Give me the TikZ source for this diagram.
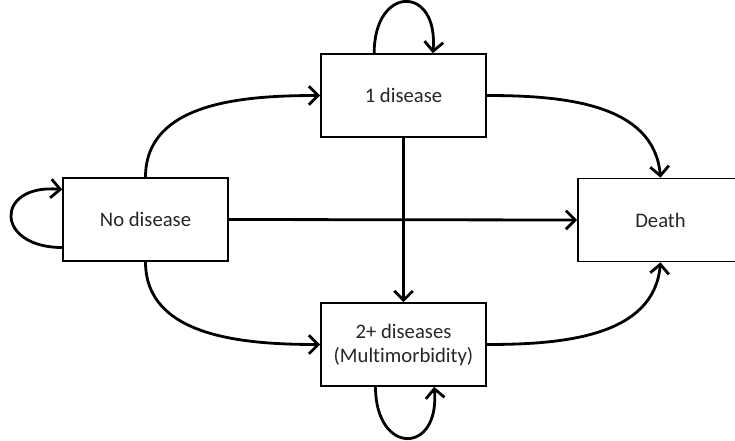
\documentclass[tikz,border=0pt]{standalone}
\usepackage{fontspec}
\setmainfont[Ligatures=NoCommon]{Carlito}
\usetikzlibrary{arrows.meta}

\tikzset{
    state/.style={draw, line width=1.2pt, minimum width=123.75pt, minimum height=62.25pt,
        align=center, font=\fontsize{15.5}{18}\selectfont, text=black!85},
    trans/.style={line width=2.1pt, -{Straight Barb[length=7pt, width=14pt]}}
}

\begin{document}
\begin{tikzpicture}[x=0.75pt, y=-0.75pt]
    \useasboundingbox (0,0) rectangle (735,440);

    \node[state] (none) at (145.5, 219.5) {No disease};
    \node[state] (one) at (403.5, 95.5) {1 disease};
    \node[state] (multi) at (403.5, 344.5) {2+ diseases\\(Multimorbidity)};
    \node[state] (death) at (660.5, 220) {Death};

  \draw[trans] (none.east) -- (death.west);
  \draw[trans] (one.south) -- (multi.north);

  \draw[trans] (none.north) to[out=90, in=180] (one.west);
  \draw[trans] (none.south) to[out=-90, in=180] (multi.west);
  \draw[trans] (one.east) to[out=0, in=95] (death.north);
  \draw[trans] (multi.east) to[out=0, in=-95] (death.south);

  \draw[trans] ([yshift=-21pt]none.west) to[out=180, in=175, looseness=3] ([yshift=22.5pt]none.west);
  \draw[trans] ([xshift=-22pt]one.north) to[out=90, in=85, looseness=3] ([xshift=22pt]one.north);
  \draw[trans] ([xshift=-21pt]multi.south) to[out=-90, in=-85, looseness=3] ([xshift=23pt]multi.south);
\end{tikzpicture}
\end{document}
